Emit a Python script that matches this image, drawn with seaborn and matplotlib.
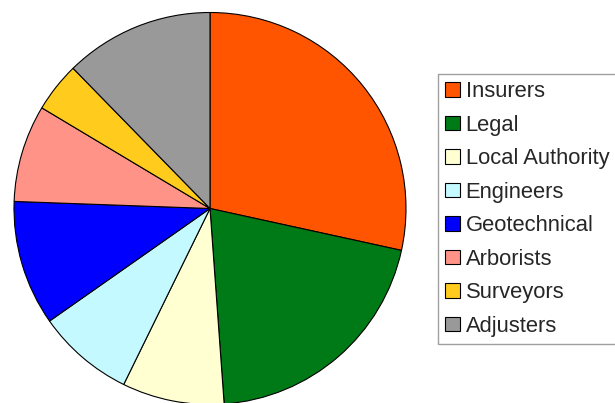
import matplotlib
matplotlib.use("Agg")
import matplotlib.pyplot as plt
import seaborn as sns
from matplotlib.patches import Patch

categories = ["Insurers", "Legal", "Local Authority", "Engineers",
              "Geotechnical", "Arborists", "Surveyors", "Adjusters"]
values = [28.4, 20.4, 8.4, 8.0, 10.3, 8.0, 4.1, 12.3]
colors = ["#FF5500", "#007A16", "#FFFFD2", "#C4F9FF",
          "#0000FF", "#FF9387", "#FFCC1E", "#999999"]

sns.set_theme(style="white")
plt.rcParams['font.family'] = ['Liberation Sans', 'DejaVu Sans']

palette = sns.color_palette(colors)

fig = plt.figure(figsize=(6.15, 4.03), dpi=100)
W, H = 615, 403
cx, cy, r = 210, 208.5, 196
ax = fig.add_axes([(cx - r) / W, 1 - (cy + r) / H, 2 * r / W, 2 * r / H])
wedges, _ = ax.pie(values, colors=palette, startangle=90, counterclock=False,
                   wedgeprops=dict(edgecolor="black", linewidth=0.8))
ax.set_xlim(-1, 1)
ax.set_ylim(-1, 1)
ax.set_aspect("equal")
ax.axis("off")

fs = 15.8
px = fs * 100 / 72.0
handles = [Patch(facecolor=c, edgecolor="black", linewidth=0.8) for c in palette]
leg = fig.legend(handles, categories, loc="upper left",
                 bbox_to_anchor=(438 / W, 1 - 74 / H), borderaxespad=0,
                 fontsize=fs, frameon=True, fancybox=False,
                 handlelength=15 / px, handleheight=13.5 / px, handletextpad=5.5 / px,
                 labelspacing=0.57, borderpad=0.33)
leg.get_frame().set_edgecolor("#888888")
leg.get_frame().set_linewidth(1.0)

fig.savefig("out.png", dpi=100)
